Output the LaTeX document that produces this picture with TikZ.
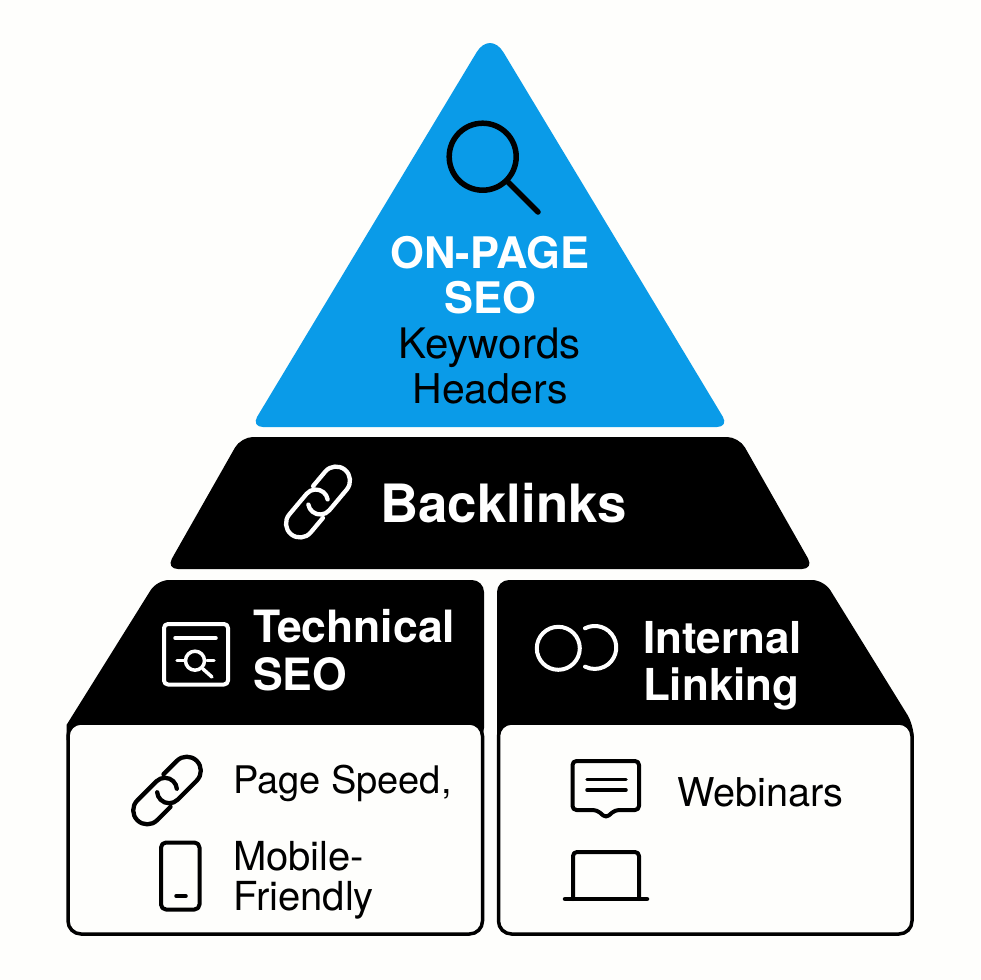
\documentclass[tikz,border=0pt]{standalone}
\usepackage{fontspec}
\setmainfont{TeX Gyre Heros}
\definecolor{pagewhite}{HTML}{FEFEFC}
\definecolor{topblue}{HTML}{0A9BE8}

\tikzset{
	label base/.style={inner sep=0pt, outer sep=0pt, anchor=base},
	bold label/.style={label base, text=white, font=\fontsize{#1}{#1}\selectfont\bfseries},
	plain label/.style={label base, text=black, font=\fontsize{#1}{#1}\selectfont},
	tier/.style={fill=black, rounded corners=12pt},
	panel/.style={fill=pagewhite, draw=black, line width=3.5pt, rounded corners=13pt},
	glyph/.style={line width=#1, line cap=round, line join=round},
}

% chain icon: two hooked links, turned half a turn from each other
\newcommand{\chainicon}[4]{
	\begin{scope}[shift={(#1,#2)}, rotate=#3, y=1pt]
		\foreach \turn in {0,180}
			\draw[glyph=4.3pt, draw=#4, rotate=\turn]
				(9,14) -- (28,14) arc[start angle=90, end angle=-90, radius=14pt]
				-- (1,-14) arc[start angle=270, end angle=140, radius=12pt];
	\end{scope}
}

\begin{document}
\begin{tikzpicture}[x=1pt, y=-1pt]
	
	\useasboundingbox[fill=pagewhite] (0,0) rectangle (980,980);
	
	% top triangle
	\coordinate (apex) at (490,30);
	\coordinate (topl) at (251,427);
	\coordinate (topr) at (729,427);
	\fill[topblue, rounded corners=12pt] (topl) -- (topr) [rounded corners=26pt] -- (apex)
		[rounded corners=12pt] -- cycle;
	
	\draw[glyph=5.5pt] (482.7,156.7) circle (33.5pt);
	\draw[glyph=5.5pt] (508,182) -- (538,212);
	
	\node[bold label=43.5] (onpage) at (490,268) {ON-PAGE};
	\node[bold label=43.5] (seotop) at (490,313) {SEO};
	\node[plain label=42] (keywords) at (489.5,358) {Keywords};
	\node[plain label=41] (headers) at (490,403) {Headers};
	
	% middle band
	\fill[tier] (241,437) -- (739,437) -- (814,569) -- (166,569) -- cycle;
	\chainicon{318}{502}{50}{white}
	\node[bold label=52.8] (backlinks) at (503.5,522) {Backlinks};
	
	% left block
	\fill[tier] (157,580) -- (484,580) -- (484,740) [sharp corners] -- (66.5,740) -- (66.5,725)
		[rounded corners=12pt] -- cycle;
	\draw[panel] (68,723) rectangle (482.5,934);
	
	\draw[glyph=4pt, draw=white, rounded corners=4pt] (164,624) rectangle (228,684.5);
	\draw[glyph=3.5pt, draw=white] (175,638) -- (216,638);
	\draw[glyph=3.5pt, draw=white] (195,660.7) circle (9.5pt);
	\draw[glyph=3.5pt, draw=white] (177,660.7) -- (185,660.7);
	\draw[glyph=3.5pt, draw=white] (207,660.7) -- (214,660.7);
	\draw[glyph=3.5pt, draw=white] (203,669) -- (212,677);
	
	\node[bold label=44.5, anchor=base west] (technical) at (253,642) {Technical};
	\node[bold label=44.5, anchor=base west] (seolow) at (253,690) {SEO};
	
	\chainicon{167}{790.5}{45}{black}
	\node[plain label=38, anchor=base west] (speed) at (233,793) {Page Speed,};
	
	\draw[glyph=4pt, rounded corners=5pt] (161,842.5) rectangle (199.5,909.5);
	\draw[glyph=3.5pt] (176,896) -- (186,896);
	\node[plain label=40, anchor=base west] (mobile) at (233,870) {Mobile-};
	\node[plain label=40, anchor=base west] (friendly) at (233,910) {Friendly};
	
	% right block
	\fill[tier] (497,580) -- (824,580) -- (913.7,725) [sharp corners] -- (913.7,740) -- (497,740)
		[rounded corners=12pt] -- cycle;
	\draw[panel] (498.5,723) rectangle (912,934);
	
	\draw[glyph=4pt, draw=white] (558.3,648.3) circle (21.5pt);
	\draw[glyph=4pt, draw=white] (585,628.3) arc[start angle=117, end angle=-117, radius=21.5pt];
	
	\node[bold label=44, anchor=base west] (internal) at (643,653) {Internal};
	\node[bold label=44, anchor=base west] (linking) at (643,700) {Linking};
	
	\draw[glyph=4pt, rounded corners=4pt] (597,810) -- (572.5,810) -- (572.5,761) -- (639,761)
		-- (639,810) -- (615,810) -- (606,818) -- cycle;
	\draw[glyph=3.5pt] (587,779.3) -- (626,779.3);
	\draw[glyph=3.5pt] (587,790) -- (626,790);
	\node[plain label=39.7, anchor=base west] (webinars) at (677,806) {Webinars};
	
	\draw[glyph=4pt, rounded corners=4pt] (573,899) -- (573,852) -- (639,852) -- (639,899);
	\draw[glyph=4.5pt] (565,899) -- (647,899);
	
\end{tikzpicture}
\end{document}
